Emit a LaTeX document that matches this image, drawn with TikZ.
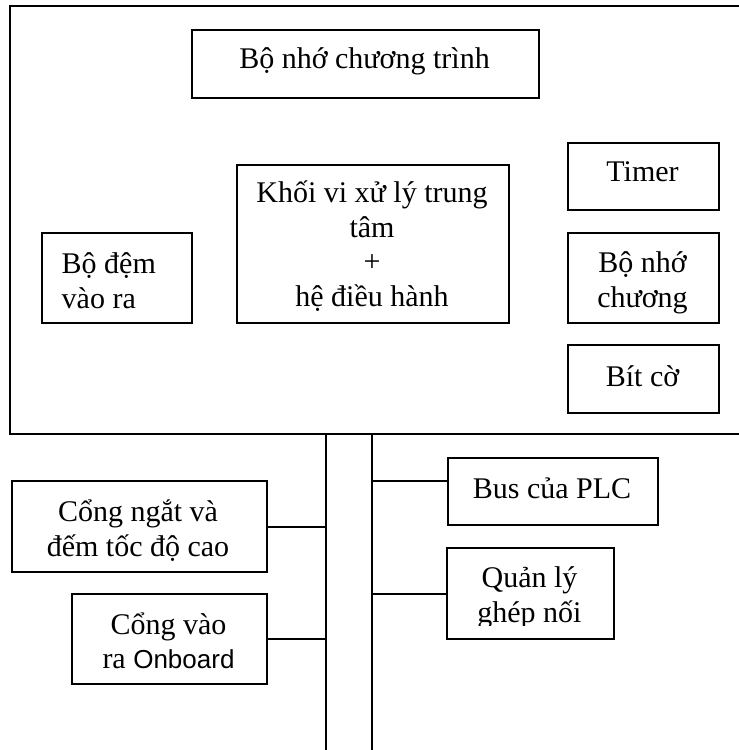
\documentclass[tikz,border=0pt]{standalone}
\usepackage{fontspec}
\setmainfont{Liberation Serif}
\newfontfamily\sansfnt{Liberation Sans}
\begin{document}
\begin{tikzpicture}[x=1pt,y=-1pt,
  frame/.style={draw=black,line width=2.2pt,inner sep=0pt,anchor=north west},
  txt/.style={inner sep=0pt,font=\fontsize{30}{34.5}\selectfont,align=center,anchor=base},
  wire/.style={draw=black,line width=2.2pt}]
\useasboundingbox (0,0) rectangle (739,750);
% outer PLC frame (right side outside the picture)
\coordinate (ftr) at (745,6);
\coordinate (ftl) at (10,6);
\coordinate (fbl) at (10,434);
\coordinate (fbr) at (745,434);
\draw[wire] (ftr) -- (ftl) -- (fbl) -- (fbr);
% bus lines
\coordinate (b1t) at (326,434);
\coordinate (b1b) at (326,752);
\coordinate (b2t) at (372,434);
\coordinate (b2b) at (372,752);
\draw[wire] (b1t) -- (b1b);
\draw[wire] (b2t) -- (b2b);
% boxes
\node[frame,minimum width=347pt,minimum height=68pt] (prog) at (191,29) {};
\node[frame,minimum width=272pt,minimum height=158pt] (cpu) at (236,164) {};
\node[frame,minimum width=150pt,minimum height=90pt] (buf) at (41,232) {};
\node[frame,minimum width=151pt,minimum height=67pt] (tmr) at (567,142) {};
\node[frame,minimum width=151pt,minimum height=90pt] (mem) at (567,232) {};
\node[frame,minimum width=151pt,minimum height=68pt] (flag) at (567,344) {};
\node[frame,minimum width=255pt,minimum height=91pt] (cn) at (11,480) {};
\node[frame,minimum width=195pt,minimum height=90pt] (cv) at (71,593) {};
\node[frame,minimum width=210pt,minimum height=67pt] (bus) at (447,457) {};
\node[frame,minimum width=167pt,minimum height=91pt] (ql) at (446,547) {};
% texts (multi-line nodes: base = last line)
\node[txt] (prog-t) at (364.5,68) {Bộ nhớ chương trình};
\node[txt] (cpu-t) at (372,306) {Khối vi xử lý trung\\tâm\\+\\hệ điều hành};
\node[txt,align=left,anchor=base west] (buf-t) at (61.5,308) {Bộ đệm\\vào ra};
\node[txt] (tmr-t) at (642.5,181) {Timer};
\node[txt] (mem-t) at (642.5,307) {Bộ nhớ\\chương};
\node[txt] (flag-t) at (642.5,386) {Bít cờ};
\node[txt] (cn-t) at (138,556) {Cổng ngắt và\\đếm tốc độ cao};
\node[txt] (cv-t) at (168.5,668.5) {Cổng vào\\ra {\sansfnt\fontsize{26}{34.5}\selectfont Onboard}};
\node[txt] (bus-t) at (552,498) {Bus của PLC};
\begin{scope}
\clip (447,548) rectangle (612,625.5);
\node[txt] (ql-t) at (529.5,622) {Quản lý\\ghép nối};
\end{scope}
% connectors
\draw[wire] (cn.east) -- (cn.east -| b1t);
\draw[wire] (cv.east) -- (cv.east -| b1t);
\draw[wire] ([yshift=11pt]bus.west) -- ([yshift=11pt]bus.west -| b2t);
\draw[wire] (ql.west) -- (ql.west -| b2t);
\end{tikzpicture}
\end{document}
